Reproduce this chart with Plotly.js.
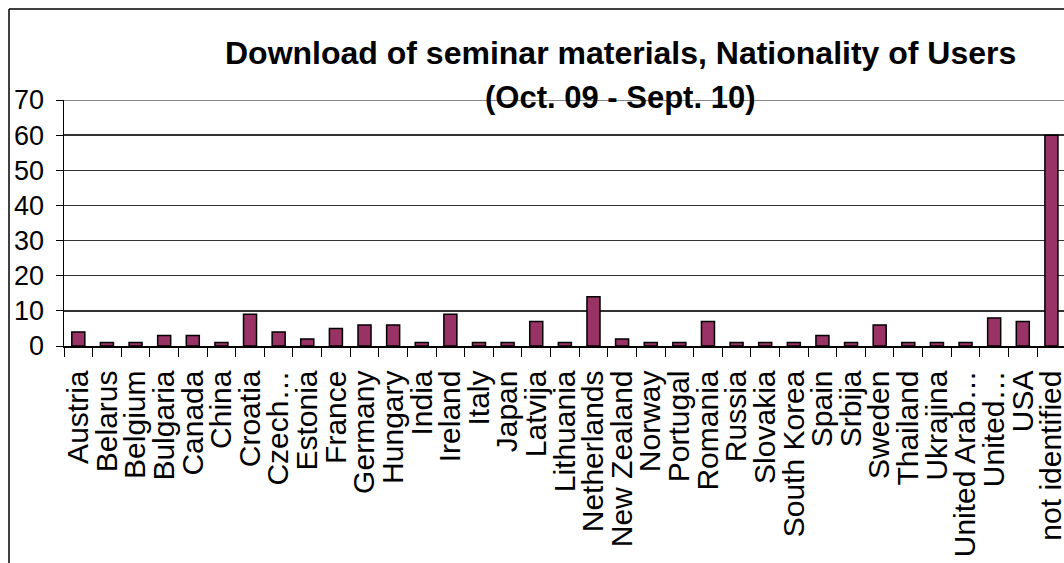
<!DOCTYPE html>
<html>
<head>
<meta charset="utf-8">
<script src="https://cdn.plot.ly/plotly-3.0.1.min.js"></script>
<style>html,body{margin:0;padding:0;background:#fff;}#chart{width:1064px;height:563px;}</style>
</head>
<body>
<div id="chart"></div>
<script>
const countries = ["Austria","Belarus","Belgium","Bulgaria","Canada","China","Croatia","Czech…","Estonia","France","Germany","Hungary","India","Ireland","Italy","Japan","Latvija","Lithuania","Netherlands","New Zealand","Norway","Portugal","Romania","Russia","Slovakia","South Korea","Spain","Srbija","Sweden","Thailand","Ukrajina","United Arab…","United…","USA","not identified"];
const downloads = [4,1,1,3,3,1,9,4,2,5,6,6,1,9,1,1,7,1,14,2,1,1,7,1,1,1,3,1,6,1,1,1,8,7,60];
const yTicks = [0,10,20,30,40,50,60,70];
const titleLine1 = "Download of seminar materials, Nationality of Users";
const titleLine2 = "(Oct. 09 - Sept. 10)";

const FONT = "Liberation Sans, Arial, sans-serif";

const trace = {
  type: "bar",
  x: countries,
  y: downloads,
  marker: {color: "#993366", line: {color: "#000", width: 1.5}},
  hoverinfo: "x+y"
};

const layout = {
  width: 1064, height: 563,
  margin: {l: 64, r: 0, t: 100, b: 217, pad: 0},
  paper_bgcolor: "#fff", plot_bgcolor: "#fff",
  showlegend: false,
  bargap: 0.545,
  font: {family: FONT, color: "#000"},
  xaxis: {
    type: "category",
    range: [-0.5, 34.44],
    tickmode: "linear", tick0: 0, dtick: 1,
    tickangle: -90,
    tickfont: {size: 30, family: FONT, color: "#000"},
    ticks: "outside", ticklen: 9, tickwidth: 1, tickcolor: "#000",
    tickson: "boundaries",
    showline: true, linecolor: "#000", linewidth: 1.5,
    showgrid: false, zeroline: false,
    ticklabelstandoff: 11,
    automargin: false
  },
  yaxis: {
    range: [0, 70],
    tickvals: yTicks,
    ticktext: yTicks.map(String),
    tickfont: {size: 27, family: FONT, color: "#000"},
    ticks: "outside", ticklen: 7, tickwidth: 1, tickcolor: "#000",
    showline: true, linecolor: "#000", linewidth: 1.5,
    showgrid: true, gridcolor: "#333", gridwidth: 1.3,
    zeroline: false,
    ticklabelstandoff: 6,
    automargin: false
  },
  shapes: [
    {type: "line", xref: "paper", yref: "y", x0: 0, x1: 1, y0: 70, y1: 70, line: {color: "#888", width: 2}, layer: "above"},
    {type: "line", xref: "paper", yref: "paper", x0: -0.055, x1: 1.1, y0: 1.370, y1: 1.370, line: {color: "#000", width: 1.5}},
    {type: "line", xref: "paper", yref: "paper", x0: -0.055, x1: -0.055, y0: 1.370, y1: -0.9, line: {color: "#000", width: 1.5}}
  ],
  annotations: [
    {text: "<b>" + titleLine1 + "</b>", xref: "paper", yref: "paper", x: 0.556, y: 1.0, yanchor: "bottom", yshift: 27, showarrow: false, font: {size: 32, family: FONT, color: "#000"}},
    {text: "<b>" + titleLine2 + "</b>", xref: "paper", yref: "paper", x: 0.556, y: 1.0, yanchor: "bottom", yshift: -17, showarrow: false, font: {size: 31, family: FONT, color: "#000"}}
  ]
};

Plotly.newPlot("chart", [trace], layout, {displayModeBar: false, staticPlot: true});
</script>
</body>
</html>
